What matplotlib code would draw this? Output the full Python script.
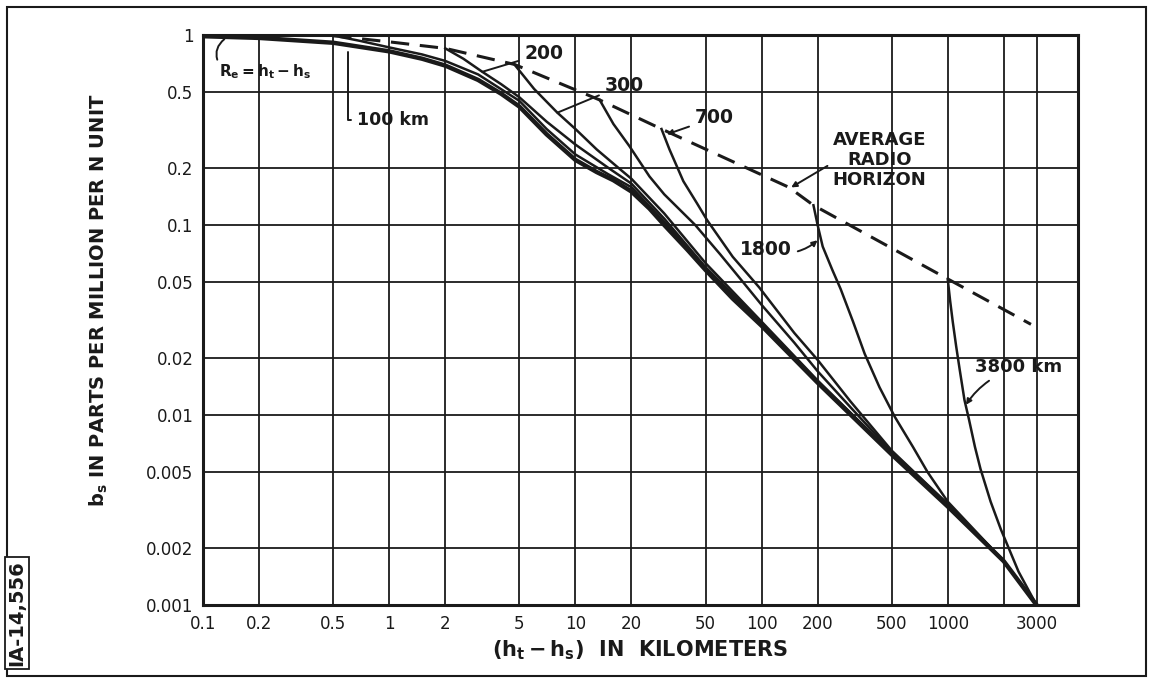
import numpy as np
import matplotlib.pyplot as plt
from matplotlib.patches import Rectangle

# average radio horizon (dashed)
horizon_x = [0.5, 1, 2, 4.7, 13.5, 29, 140, 190, 1000, 2800]
horizon_y = [0.99, 0.92, 0.85, 0.70, 0.455, 0.32, 0.158, 0.127, 0.052, 0.03]

# envelope R_e = h_t - h_s
env_x = [0.1, 0.2, 0.5, 1, 1.5, 2, 3, 4, 5, 7, 10, 13, 16, 20, 25, 30, 40, 50, 70, 100, 200, 500, 1000, 2000, 3000]
env_y = [0.985, 0.965, 0.91, 0.82, 0.75, 0.69, 0.58, 0.49, 0.42, 0.30, 0.22, 0.19, 0.172, 0.15, 0.122, 0.10,
         0.074, 0.058, 0.041, 0.0295, 0.0148, 0.0062, 0.0033, 0.0017, 0.001]

# curves for the individual ranges, each leaving the horizon line
km100_x = [0.55, 0.7, 1, 1.5, 2, 3, 5, 7, 10, 15, 20, 30, 50, 100, 200, 500, 1000, 2000, 3000]
km100_y = [0.975, 0.93, 0.86, 0.79, 0.73, 0.62, 0.45, 0.32, 0.235, 0.185, 0.158, 0.104, 0.059, 0.030,
           0.0149, 0.0062, 0.0033, 0.0017, 0.001]
km200_x = [2, 2.5, 3.16, 4, 5, 7, 10, 15, 20, 30, 50, 100, 200, 500, 1000, 2000, 3000]
km200_y = [0.85, 0.75, 0.64, 0.55, 0.47, 0.35, 0.265, 0.20, 0.165, 0.108, 0.060, 0.0305, 0.015, 0.0063,
           0.0033, 0.0017, 0.001]
km300_x = [4.7, 6, 8, 10, 13, 17, 20, 30, 50, 100, 200, 500, 1000, 2000, 3000]
km300_y = [0.70, 0.52, 0.39, 0.32, 0.25, 0.20, 0.175, 0.115, 0.063, 0.031, 0.0152, 0.0063, 0.0033, 0.0017, 0.001]
km500_x = [13.5, 16, 19.5, 25, 30, 44, 60, 77, 100, 150, 200, 300, 500, 1000, 2000, 3000]
km500_y = [0.455, 0.34, 0.26, 0.18, 0.145, 0.10, 0.07, 0.052, 0.038, 0.024, 0.017, 0.011, 0.0064, 0.0034,
           0.0017, 0.001]
km700_x = [29, 32, 38, 45, 51, 70, 97, 150, 200, 300, 500, 1000, 2000, 3000]
km700_y = [0.32, 0.25, 0.17, 0.13, 0.106, 0.068, 0.047, 0.027, 0.0195, 0.0118, 0.0065, 0.0034, 0.0017, 0.001]
km1800_x = [190, 200, 213, 240, 266, 310, 358, 430, 519, 650, 780, 1000, 2000, 3000]
km1800_y = [0.127, 0.10, 0.077, 0.058, 0.046, 0.031, 0.021, 0.014, 0.0098, 0.0068, 0.0050, 0.0035, 0.0017, 0.001]
km3800_x = [1000, 1030, 1064, 1110, 1160, 1230, 1300, 1400, 1500, 1700, 1930, 2400, 3000]
km3800_y = [0.052, 0.040, 0.031, 0.023, 0.0173, 0.012, 0.0095, 0.0068, 0.0052, 0.0035, 0.0025, 0.0015, 0.001]

x_grid = [0.2, 0.5, 1, 2, 5, 10, 20, 50, 100, 200, 500, 1000, 2000, 3000]
y_grid = [0.002, 0.005, 0.01, 0.02, 0.05, 0.1, 0.2, 0.5]
x_ticks = [0.1, 0.2, 0.5, 1, 2, 5, 10, 20, 50, 100, 200, 500, 1000, 3000]
x_labels = ["0.1", "0.2", "0.5", "1", "2", "5", "10", "20", "50", "100", "200", "500", "1000", "3000"]
y_ticks = [0.001, 0.002, 0.005, 0.01, 0.02, 0.05, 0.1, 0.2, 0.5, 1]
y_labels = ["0.001", "0.002", "0.005", "0.01", "0.02", "0.05", "0.1", "0.2", "0.5", "1"]

ink = "#1a1a1a"
plt.rcParams["font.family"] = ["DejaVu Sans"]

fig = plt.figure(figsize=(11.54, 6.83), dpi=100)
ax = fig.add_axes([0.176, 0.1142, 0.758, 0.8346])
ax.set_xscale("log")
ax.set_yscale("log")
ax.set_xlim(0.1, 5000)
ax.set_ylim(0.001, 1)

for gx in x_grid:
    ax.axvline(gx, color=ink, lw=1.3, zorder=1)
for gy in y_grid:
    ax.axhline(gy, color=ink, lw=1.3, zorder=1)

ax.plot(horizon_x, horizon_y, color=ink, lw=2.2, dashes=(6, 3.5), zorder=3)
for cx, cy in [(km100_x, km100_y), (km200_x, km200_y), (km300_x, km300_y),
               (km500_x, km500_y), (km700_x, km700_y), (km1800_x, km1800_y),
               (km3800_x, km3800_y)]:
    ax.plot(cx, cy, color=ink, lw=1.8, zorder=3, solid_joinstyle="round")
ax.plot(env_x, env_y, color=ink, lw=3.2, zorder=4, solid_joinstyle="round")

ax.set_xticks(x_ticks)
ax.set_xticklabels(x_labels)
ax.set_yticks(y_ticks)
ax.set_yticklabels(y_labels)
ax.minorticks_off()
ax.tick_params(length=0, pad=7, labelsize=12, colors=ink)
for s in ax.spines.values():
    s.set_linewidth(2.2)
    s.set_color(ink)

ax.set_xlabel(r"$\mathbf{(h_t - h_s)}$  IN  KILOMETERS", fontsize=15, fontweight="bold", color=ink, labelpad=4)
ax.set_ylabel(r"$\mathbf{b_s}$ IN PARTS PER MILLION PER N UNIT", fontsize=14, fontweight="bold", color=ink)
ax.yaxis.set_label_coords(-0.107, 0.535)

ax.annotate(r"$\mathbf{R_e = h_t - h_s}$", xy=(0.13, 0.95), xytext=(0.122, 0.64),
            fontsize=11, color=ink, va="center", ha="left",
            arrowprops=dict(arrowstyle="-", color=ink, lw=1.4, relpos=(0, 0.9),
                            connectionstyle="arc3,rad=-0.4", shrinkA=0, shrinkB=0))
ax.annotate("100 km", xy=(0.6, 0.81), xytext=(0.67, 0.357), fontsize=12.5, fontweight="bold",
            color=ink, va="center", ha="left",
            arrowprops=dict(arrowstyle="-", color=ink, lw=1.4, relpos=(0, 0.5),
                            connectionstyle="angle,angleA=0,angleB=90,rad=0", shrinkA=2, shrinkB=0))
ax.annotate("200", xy=(3.16, 0.64), xytext=(5.3, 0.80), fontsize=13.5, fontweight="bold",
            color=ink, va="center", ha="left", arrowprops=dict(arrowstyle="-", color=ink, lw=1.4, shrinkA=2, shrinkB=0))
ax.annotate("300", xy=(8, 0.39), xytext=(14.3, 0.545), fontsize=13.5, fontweight="bold",
            color=ink, va="center", ha="left", arrowprops=dict(arrowstyle="-", color=ink, lw=1.4, shrinkA=2, shrinkB=0))
ax.annotate("700", xy=(31, 0.30), xytext=(43.6, 0.366), fontsize=13.5, fontweight="bold",
            color=ink, va="center", ha="left",
            arrowprops=dict(arrowstyle="-|>", color=ink, lw=1.4, mutation_scale=8, shrinkA=2, shrinkB=0))
ax.annotate("AVERAGE\nRADIO\nHORIZON", xy=(140, 0.155), xytext=(430, 0.22), fontsize=13,
            fontweight="bold", color=ink, va="center", ha="center", linespacing=1.15,
            arrowprops=dict(arrowstyle="-|>", color=ink, lw=1.4, mutation_scale=8, relpos=(0, 0.45)))
ax.annotate("1800", xy=(205, 0.085), xytext=(77, 0.074), fontsize=13.5, fontweight="bold",
            color=ink, va="center", ha="left",
            arrowprops=dict(arrowstyle="-|>", color=ink, lw=1.4, mutation_scale=8, connectionstyle="arc3,rad=0.3"))
ax.annotate("3800 km", xy=(1230, 0.011), xytext=(1400, 0.0178), fontsize=13, fontweight="bold",
            color=ink, va="center", ha="left",
            arrowprops=dict(arrowstyle="-|>", color=ink, lw=1.4, mutation_scale=8, connectionstyle="arc3,rad=0.2"))

# drawing frame and plate number
fig.patches.append(Rectangle((0.006, 0.01), 0.987, 0.98, transform=fig.transFigure,
                             fill=False, lw=1.5, edgecolor=ink))
fig.text(0.0147, 0.1025, "IA-14,556", rotation=90, fontsize=14, fontweight="bold", color=ink,
         ha="center", va="center",
         bbox=dict(boxstyle="square,pad=0.15", fc="white", ec=ink, lw=1.3))

fig.savefig("out.png", dpi=100)
